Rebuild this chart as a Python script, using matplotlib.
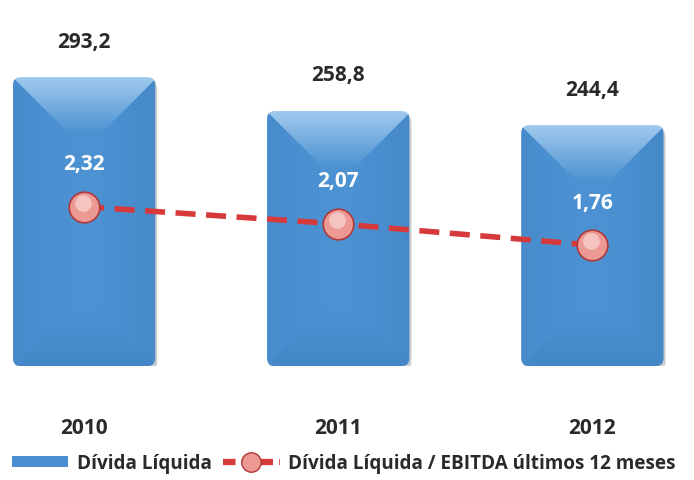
import numpy as np
import matplotlib
matplotlib.use("Agg")
import matplotlib.pyplot as plt
from matplotlib.patches import FancyBboxPatch, Patch
from matplotlib.lines import Line2D
import matplotlib.transforms as mtransforms

years = ["2010", "2011", "2012"]
divida_liquida = [293.2, 258.8, 244.4]
divida_ebitda = [2.32, 2.07, 1.76]
bar_labels = ["293,2", "258,8", "244,4"]
ratio_labels = ["2,32", "2,07", "1,76"]

plt.rcParams['font.family'] = ['Open Sans', 'DejaVu Sans']

BODY = np.array([76, 146, 210]) / 255
LIGHT = np.array([160, 202, 238]) / 255
DARK = np.array([58, 120, 185]) / 255
TEXT = '#2a2a2a'


def bevel_image(w, h, depth=55):
    # picture-frame style bevel: light top, darker bottom and sides
    yy, xx = np.mgrid[0:h, 0:w].astype(float)
    stack = np.stack([yy, h - yy, xx, w - xx])
    facet = stack.argmin(axis=0)
    t = np.clip(1 - stack.min(axis=0) / depth, 0, 1)[..., None]
    img = np.ones((h, w, 3)) * BODY
    img = np.where((facet == 0)[..., None], BODY + t * (LIGHT - BODY), img)
    img = np.where((facet == 1)[..., None], BODY + t * 0.45 * (DARK - BODY), img)
    img = np.where((facet == 2)[..., None], BODY + t * 0.25 * (DARK - BODY), img)
    img = np.where((facet == 3)[..., None], BODY + t * 0.35 * (DARK - BODY), img)
    return img


fig = plt.figure(figsize=(6.94, 4.81), dpi=100)
ax = fig.add_axes([0, 0.237, 1, 0.721])
x = np.arange(len(years))
bars = ax.bar(x, divida_liquida, width=0.56, color='none', edgecolor='none')
ax.set_xlim(-0.331, 2.40)
ax.set_ylim(0, 352)

for rect, lab in zip(bars, bar_labels):
    bx, by = rect.get_x(), rect.get_y()
    bw, bh = rect.get_width(), rect.get_height()
    # soft shadow
    for i, a in enumerate([0.10, 0.10, 0.12]):
        off = mtransforms.offset_copy(ax.transData, fig=fig, x=2, y=-(2 + 2 * i), units='dots')
        sh = FancyBboxPatch((bx, by), bw, bh, boxstyle="round,pad=0,rounding_size=0.03",
                            mutation_aspect=260, facecolor='#555555', edgecolor='none',
                            alpha=a, transform=off, zorder=1)
        ax.add_patch(sh)
    clip = FancyBboxPatch((bx, by), bw, bh, boxstyle="round,pad=0,rounding_size=0.03",
                          mutation_aspect=260, facecolor='none', edgecolor='none', zorder=2)
    ax.add_patch(clip)
    p0 = ax.transData.transform((bx, by))
    p1 = ax.transData.transform((bx + bw, by + bh))
    img = bevel_image(int(p1[0] - p0[0]), int(p1[1] - p0[1]))
    im = ax.imshow(img, extent=(bx, bx + bw, by, by + bh), aspect='auto', zorder=2,
                   interpolation='bilinear')
    im.set_clip_path(clip)
    ax.annotate(lab, (bx + bw / 2, bh), xytext=(0, 26), textcoords='offset points',
                ha='center', va='center', fontsize=15, fontweight='bold', color=TEXT)

ax.set_xticks(x, years)
ax.tick_params(axis='x', length=0, pad=37, labelsize=15, labelcolor=TEXT)
for t in ax.get_xticklabels():
    t.set_fontweight('bold')
ax.set_yticks([])
for s in ax.spines.values():
    s.set_visible(False)

ax2 = ax.twinx()
ax2.set_ylim(0, 5.05)
ax2.set_yticks([])
for s in ax2.spines.values():
    s.set_visible(False)
ax2.plot(x, divida_ebitda, color='#d6393a', lw=4, ls=(0, (3.6, 1.9)), zorder=3)
ax2.plot(x, divida_ebitda, ls='none', marker='o', markersize=22,
         markerfacecolor='#ec9893', markeredgecolor='#b03838', markeredgewidth=1.2, zorder=4)
hl = mtransforms.offset_copy(ax2.transData, fig=fig, x=-1, y=4, units='dots')
ax2.plot(x, divida_ebitda, ls='none', marker='o', markersize=12, markerfacecolor='#f8d0cc',
         markeredgecolor='none', transform=hl, zorder=5, alpha=0.8)
for xi, v, lab in zip(x, divida_ebitda, ratio_labels):
    ax2.annotate(lab, (xi, v), xytext=(0, 31), textcoords='offset points', ha='center',
                 va='center', fontsize=15, fontweight='bold', color='white')

handles = [Patch(facecolor='#4a8fd0', edgecolor='none'),
           Line2D([0], [0], color='#d6393a', lw=4.5, ls=(0, (2, 1)), marker='o', markersize=14,
                  markerfacecolor='#ec9893', markeredgecolor='#b03838')]
leg = fig.legend(handles, ['Dívida Líquida', 'Dívida Líquida / EBITDA últimos 12 meses'],
                 loc='center', bbox_to_anchor=(0.495, 0.035), ncol=2, frameon=False,
                 fontsize=13.6, handlelength=3.0, handleheight=0.45, columnspacing=0.6,
                 handletextpad=0.45, borderpad=0, borderaxespad=0)
for t in leg.get_texts():
    t.set_color(TEXT)
    t.set_fontweight('bold')

fig.savefig('out.png', dpi=100)
